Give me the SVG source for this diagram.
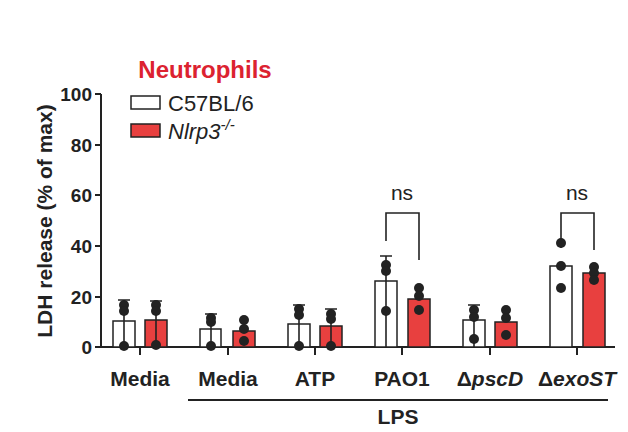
<svg xmlns="http://www.w3.org/2000/svg" width="628" height="432" viewBox="0 0 628 432">
<style>
text{font-family:"Liberation Sans",Arial,sans-serif;fill:#222}
.b{font-weight:bold}
.w{fill:#fff;stroke:#222;stroke-width:1.5}
.r{fill:#e8403f;stroke:#222;stroke-width:1.5}
.ax{stroke:#222;stroke-width:2;fill:none}
.e{stroke:#222;stroke-width:1.6;fill:none}
.d{fill:#222}
</style>
<rect width="628" height="432" fill="#fff"/>
<text x="205" y="78" class="b" font-size="24" text-anchor="middle" style="fill:#dc2230">Neutrophils</text>
<g id="legend">
<rect x="131" y="96" width="29" height="13" class="w"/>
<text x="168" y="111" font-size="22">C57BL/6</text>
<rect x="131" y="124" width="29" height="13" class="r"/>
<text x="168" y="139" font-size="22" font-style="italic">Nlrp3<tspan dy="-9" font-size="15">-/-</tspan></text>
</g>
<g id="axes">
<path class="ax" d="M101 94V348M95 94H101M95 145H101M95 195H101M95 246H101M95 297H101M95 347H101M101 347H615"/>
<path class="ax" d="M140 347V355M228 347V355M315 347V355M402 347V355M490 347V355M577 347V355"/>
<g class="b" font-size="19" text-anchor="end">
<text x="92" y="101">100</text><text x="92" y="152">80</text><text x="92" y="202">60</text><text x="92" y="253">40</text><text x="92" y="304">20</text><text x="92" y="354">0</text>
</g>
<text transform="translate(52,221) rotate(-90)" class="b" font-size="21" text-anchor="middle">LDH release (% of max)</text>
</g>
<g id="bars">
<rect x="113" y="321" width="22" height="26" class="w"/><rect x="145" y="320" width="22" height="27" class="r"/>
<rect x="200" y="329" width="21" height="18" class="w"/><rect x="233" y="331" width="22" height="16" class="r"/>
<rect x="288" y="324" width="22" height="23" class="w"/><rect x="320" y="326" width="22" height="21" class="r"/>
<rect x="375" y="281" width="22" height="66" class="w"/><rect x="408" y="299" width="22" height="48" class="r"/>
<rect x="463" y="320" width="22" height="27" class="w"/><rect x="495" y="322" width="22" height="25" class="r"/>
<rect x="550" y="266" width="22" height="81" class="w"/><rect x="583" y="273" width="22" height="74" class="r"/>
</g>
<g id="errors">
<path class="e" d="M124 300V347M118 300H130M156 301V347M150 301H162M211 314V347M205 314H217M299 305V347M293 305H305M331 309V347M325 309H337M386 256V347M380 256H392M474 305V347M468 305H480"/>
</g>
<g id="dots" class="d">
<circle cx="124" cy="305" r="5"/><circle cx="124" cy="311" r="5"/><circle cx="124" cy="346" r="5"/>
<circle cx="156" cy="305" r="5"/><circle cx="156" cy="311" r="5"/><circle cx="156" cy="345" r="5"/>
<circle cx="211" cy="318" r="5"/><circle cx="211" cy="322" r="5"/><circle cx="211" cy="346" r="5"/>
<circle cx="244" cy="320" r="5"/><circle cx="244" cy="329" r="5"/><circle cx="244" cy="341" r="5"/>
<circle cx="299" cy="309" r="5"/><circle cx="299" cy="315" r="5"/><circle cx="299" cy="346" r="5"/>
<circle cx="331" cy="314" r="5"/><circle cx="331" cy="319" r="5"/><circle cx="331" cy="346" r="5"/>
<circle cx="386" cy="265" r="5"/><circle cx="386" cy="271" r="5"/><circle cx="386" cy="311" r="5"/>
<circle cx="419" cy="288" r="5"/><circle cx="419" cy="296" r="5"/><circle cx="419" cy="310" r="5"/>
<circle cx="474" cy="310" r="5"/><circle cx="474" cy="317" r="5"/><circle cx="474" cy="339" r="5"/>
<circle cx="506" cy="310" r="5"/><circle cx="506" cy="318" r="5"/><circle cx="506" cy="335" r="5"/>
<circle cx="561" cy="243" r="5"/><circle cx="561" cy="266" r="5"/><circle cx="561" cy="288" r="5"/>
<circle cx="594" cy="267" r="5"/><circle cx="594" cy="273" r="5"/><circle cx="594" cy="280" r="5"/>
</g>
<g id="sig">
<path class="e" d="M386 241V213H419V260M561 248V213H594V250"/>
<text x="402" y="200" font-size="21" text-anchor="middle">ns</text>
<text x="577" y="200" font-size="21" text-anchor="middle">ns</text>
</g>
<g id="xlabels" class="b" font-size="21" text-anchor="middle">
<text x="140" y="386">Media</text><text x="228" y="386">Media</text><text x="315" y="386">ATP</text><text x="402" y="386">PAO1</text>
<text x="490" y="386" font-style="italic"><tspan font-style="normal">Δ</tspan>pscD</text>
<text x="577" y="386" font-style="italic"><tspan font-style="normal">Δ</tspan>exoST</text>
<path class="ax" d="M188 400H608"/>
<text x="398" y="424">LPS</text>
</g>
</svg>
